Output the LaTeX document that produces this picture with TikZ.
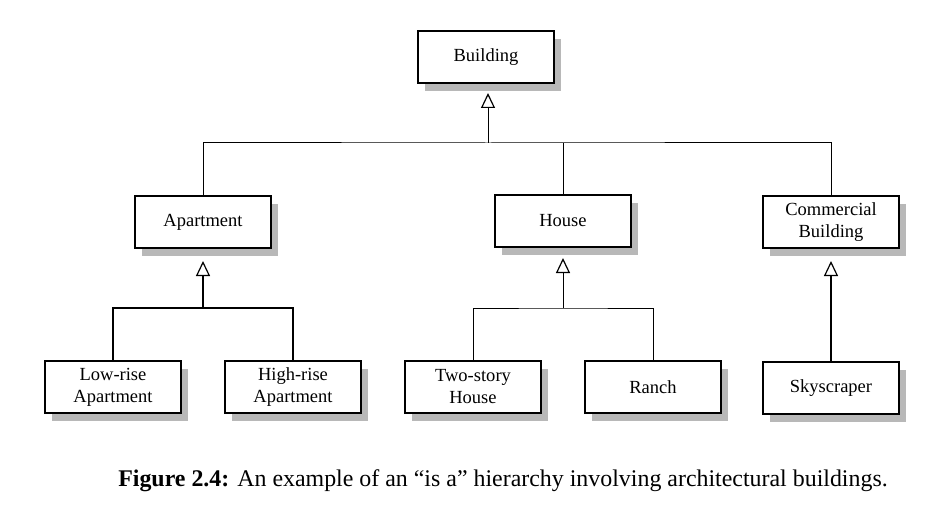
\documentclass[tikz,border=0pt]{standalone}
\usepackage{fontspec}
\setmainfont{Liberation Serif}
\usetikzlibrary{arrows.meta,shadows,calc}
\begin{document}
\begin{tikzpicture}[x=1pt,y=-1pt,
  cls/.style={draw, line width=2pt, fill=white, minimum width=136pt, minimum height=52pt,
    inner sep=0pt, align=center, font=\fontsize{18.5}{22}\selectfont,
    drop shadow={shadow xshift=7pt, shadow yshift=-8pt, fill=black!28, opacity=1}},
  thin/.style={line width=1pt},
  thick/.style={line width=2pt},
  isa/.style={-{Triangle[open, width=14pt, length=15pt, line width=1.2pt]}}
]
\useasboundingbox (0,0) rectangle (942,516);

\node[cls] (bld) at (486,57) {Building};
\node[cls] (apt) at (203,222) {Apartment};
\node[cls] (hou) at (563,221) {House};
\node[cls] (com) at (831,222) {Commercial\\Building};
\node[cls] (low) at (113,387) {Low-rise\\Apartment};
\node[cls] (high) at (293,387) {High-rise\\Apartment};
\node[cls] (two) at (473,387) {Two-story\\House};
\node[cls] (ran) at (653,387) {Ranch};
\node[cls] (sky) at (831,388) {Skyscraper};

% top level
\coordinate (bt) at ($(bld.south)+(2,9)$);
\coordinate (bb) at (488,143);
\draw[thin,isa] (bb) -- (bt);
\draw[thin] (apt.north) |- (bb) -| (com.north);
\draw[thin] (hou.north) -- (hou.north |- bb);

% apartment
\coordinate (at) at ($(apt.south)+(0,12)$);
\coordinate (ab) at (203,308);
\draw[thick,isa] (ab) -- (at);
\draw[thick] (low.north) |- (ab) -| (high.north);

% house
\coordinate (ht) at ($(hou.south)+(0,10)$);
\coordinate (hb) at (563,308);
\draw[thin,isa] (hb) -- (ht);
\draw[thin] (two.north) |- (hb) -| (ran.north);

% commercial
\coordinate (ct) at ($(com.south)+(0,12)$);
\draw[thick,isa] (sky.north) -- (ct);

\node[font=\fontsize{23.9}{28}\selectfont, anchor=center] (cap) at (503,481)
  {\textbf{Figure 2.4:} An example of an “is a” hierarchy involving architectural buildings.};
\end{tikzpicture}
\end{document}
